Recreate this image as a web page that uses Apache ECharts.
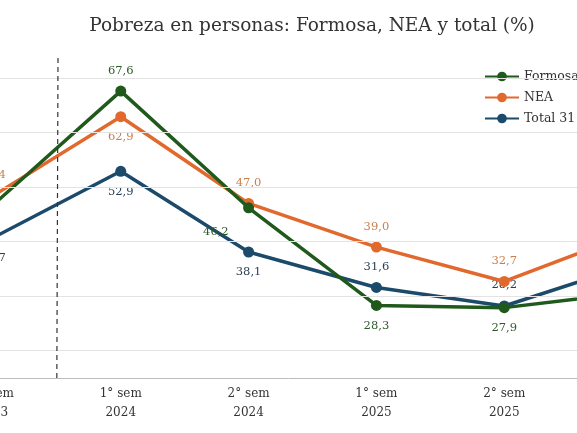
<!DOCTYPE html>
<html><head><meta charset="utf-8">
<script src="https://cdn.jsdelivr.net/npm/echarts@6/dist/echarts.min.js"></script>
<style>html,body{margin:0;padding:0;background:#fff}#c{width:577px;height:433px}</style>
</head><body><div id="c"></div>
<script>
const categories = ["2° sem\n2023","1° sem\n2024","2° sem\n2024","1° sem\n2025","2° sem\n2025","1° sem\n2026"];
const formosa = [46.7, 67.6, 46.2, 28.3, 27.9, 30.7];
const nea = [48.4, 62.9, 47.0, 39.0, 32.7, 41.6];
const total = [40.7, 52.9, 38.1, 31.6, 28.2, 35.8];
const gridValues = [20, 30, 40, 50, 60, 70];
const dividerAt = 0.5;

const F = "DejaVu Serif, serif";
const fmt = p => p.value.toFixed(1).replace('.', ',');
function mk(name, data, color, labColor, positions, extra) {
  return Object.assign({
    name, type: 'line', data: data.map((v,i)=>({value:v,label:positions[i]===null?{show:false}:{position:positions[i]}})),
    symbol: 'circle', symbolSize: 11,
    lineStyle: {width: 3.5, color}, itemStyle: {color},
    label: {show: true, formatter: fmt, color: labColor, fontFamily: F, fontSize: 11.5, distance: 9}
  }, extra || {});
}
const chart = echarts.init(document.getElementById('c'));
chart.setOption({
  animation: false,
  title: {text: 'Pobreza en personas: Formosa, NEA y total (%)', left: 307, top: 12, textAlign: 'center',
    textStyle: {fontFamily: F, fontSize: 18.5, fontWeight: 'normal', color: '#333'}},
  legend: {orient: 'vertical', left: 479, top: 65, itemGap: 8, itemWidth: 34, itemHeight: 12,
    textStyle: {fontFamily: F, fontSize: 12.5, color: '#333'},
    data: ['Formosa', 'NEA', 'Total 31 aglomerados']},
  grid: {left: -71, width: 767, top: 78, bottom: 55, outerBoundsMode: 'none', containLabel: false},
  xAxis: [{type: 'category', data: categories, boundaryGap: true,
    axisLine: {lineStyle: {color: '#bbb'}}, axisTick: {show: false},
    axisLabel: {fontFamily: F, fontSize: 12, color: '#333', lineHeight: 19, margin: 6}},
    {type: 'value', min: -0.5, max: 5.5, show: false}],
  yAxis: {type: 'value', min: 15, max: 70, show: false, splitLine: {show: false}},
  series: [
    mk('Total 31 aglomerados', total, '#1b4a6b', '#2a3f55', ['bottom','bottom','bottom','top','top','top'], {z: 2,
      markLine: {silent: true, symbol: 'none', label: {show: false},
        lineStyle: {color: '#e3e3e3', type: 'solid', width: 1},
        data: gridValues.map(v => ({yAxis: v}))}}),
    mk('NEA', nea, '#e2692d', '#c8804f', ['top','bottom','top','top','top','top'], {z: 3}),
    mk('Formosa', formosa, '#1f5a1c', '#2d5a2a', [null,'top',[-40,24],'bottom','bottom','bottom'], {z: 4}),
    {type: 'line', xAxisIndex: 1, data: [[dividerAt, 15]], symbol: 'none', silent: true,
      markLine: {silent: true, symbol: 'none', label: {show: false},
        lineStyle: {color: '#333', type: [5,4], width: 1.2},
        data: [[{coord: [dividerAt, 15]}, {x: 58, y: 58}]]}}
  ]
});
</script></body></html>
